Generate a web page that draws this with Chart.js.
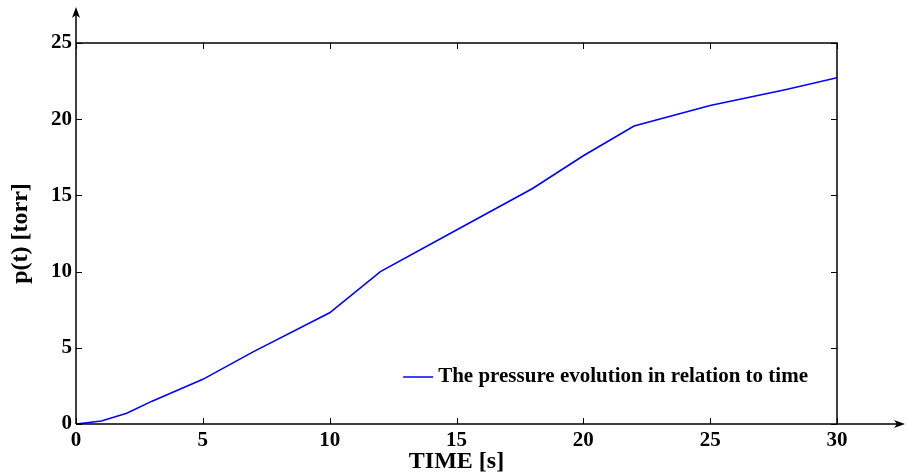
<!DOCTYPE html>
<html>
<head>
<meta charset="utf-8">
<script src="https://cdn.jsdelivr.net/npm/chart.js@4.4.1/dist/chart.umd.min.js"></script>
<style>
html, body { margin: 0; padding: 0; background: #fff; }
#wrap { width: 906px; height: 474px; }
</style>
</head>
<body>
<div id="wrap"><canvas id="pressureChart" width="906" height="474"></canvas></div>
<script>
const timeValues = [0, 1, 2, 3, 5, 7, 10, 12, 15, 18, 20, 22, 25, 28, 30];
const pressureValues = [0, 0.2, 0.7, 1.5, 2.93, 4.75, 7.3, 10.0, 12.73, 15.45, 17.6, 19.55, 20.9, 21.95, 22.72];
const xTicks = [0, 5, 10, 15, 20, 25, 30];
const yTicks = [0, 5, 10, 15, 20, 25];
const seriesLabel = 'The pressure evolution in relation to time';
const xTitle = 'TIME [s]';
const yTitle = 'p(t) [torr]';

const SERIF = '"Liberation Serif", "Times New Roman", serif';
const LINE_BLUE = '#0000FF';

// box, inward ticks and arrow axes, MATLAB style
const framePlugin = {
  id: 'frame',
  afterDraw(chart){
    const {ctx, chartArea: a, scales: {x, y}} = chart;
    ctx.save();
    ctx.strokeStyle = '#000';
    ctx.fillStyle = '#000';
    ctx.lineWidth = 1.5;
    ctx.beginPath();
    ctx.moveTo(a.left, a.top);
    ctx.lineTo(a.right, a.top);
    ctx.lineTo(a.right, a.bottom);
    ctx.moveTo(a.left, a.bottom);
    ctx.lineTo(a.left, 12);
    ctx.moveTo(a.left, a.bottom);
    ctx.lineTo(chart.width - 6, a.bottom);
    ctx.stroke();

    ctx.lineWidth = 1;
    ctx.beginPath();
    xTicks.forEach(v => {
      const px = Math.round(x.getPixelForValue(v)) + 0.5;
      ctx.moveTo(px, a.bottom); ctx.lineTo(px, a.bottom - 6);
      ctx.moveTo(px, a.top); ctx.lineTo(px, a.top + 6);
    });
    yTicks.forEach(v => {
      const py = Math.round(y.getPixelForValue(v)) + 0.5;
      ctx.moveTo(a.left, py); ctx.lineTo(a.left + 6, py);
      ctx.moveTo(a.right, py); ctx.lineTo(a.right - 6, py);
    });
    ctx.stroke();

    // arrow heads
    ctx.beginPath();
    ctx.moveTo(a.left, 7);
    ctx.lineTo(a.left - 4, 18);
    ctx.lineTo(a.left, 15);
    ctx.lineTo(a.left + 4, 18);
    ctx.closePath();
    ctx.fill();
    ctx.beginPath();
    ctx.moveTo(chart.width - 1, a.bottom);
    ctx.lineTo(chart.width - 12, a.bottom - 4);
    ctx.lineTo(chart.width - 9, a.bottom);
    ctx.lineTo(chart.width - 12, a.bottom + 4);
    ctx.closePath();
    ctx.fill();
    ctx.restore();
  }
};

// legend inside the axes, lower right, no box
const insideLegend = {
  id: 'insideLegend',
  afterDraw(chart){
    const {ctx, chartArea: a} = chart;
    const ds = chart.data.datasets[0];
    ctx.save();
    ctx.font = 'bold 21px ' + SERIF;
    ctx.textBaseline = 'middle';
    const w = ctx.measureText(ds.label).width;
    const textX = a.right - 29 - w;
    const midY = a.bottom - 47;
    ctx.strokeStyle = ds.borderColor;
    ctx.lineWidth = 1.5;
    ctx.beginPath();
    ctx.moveTo(textX - 35, midY);
    ctx.lineTo(textX - 5, midY);
    ctx.stroke();
    ctx.fillStyle = '#000';
    ctx.fillText(ds.label, textX, midY);
    ctx.restore();
  }
};

new Chart(document.getElementById('pressureChart'), {
  type: 'line',
  data: {
    labels: timeValues,
    datasets: [{
      label: seriesLabel,
      data: timeValues.map((t, i) => ({x: t, y: pressureValues[i]})),
      borderColor: LINE_BLUE,
      borderWidth: 1.6,
      pointRadius: 0,
      tension: 0,
      fill: false
    }]
  },
  options: {
    responsive: false,
    animation: false,
    devicePixelRatio: 1,
    layout: { padding: { top: 43, right: 69, left: 0, bottom: 0 } },
    plugins: { legend: { display: false }, tooltip: { enabled: false } },
    scales: {
      x: {
        type: 'linear',
        min: 0, max: 30,
        afterBuildTicks: s => { s.ticks = xTicks.map(v => ({value: v})); },
        afterFit: s => { s.height = 50; },
        grid: { display: false, drawTicks: false },
        border: { display: false },
        ticks: { color: '#000', padding: 4, maxRotation: 0, font: { family: SERIF, size: 21, weight: 'bold' } },
        title: { display: true, text: xTitle, color: '#000', padding: 0, font: { family: SERIF, size: 24, weight: 'bold', lineHeight: 1 } }
      },
      y: {
        min: 0, max: 25,
        afterBuildTicks: s => { s.ticks = yTicks.map(v => ({value: v})); },
        afterFit: s => { s.width = 76; },
        grid: { display: false, drawTicks: false },
        border: { display: false },
        ticks: { color: '#000', padding: 4, font: { family: SERIF, size: 21, weight: 'bold' } },
        title: { display: true, text: yTitle, color: '#000', padding: { top: 9, bottom: 0 }, font: { family: SERIF, size: 24, weight: 'bold', lineHeight: 1 } }
      }
    }
  },
  plugins: [framePlugin, insideLegend]
});
</script>
</body>
</html>
